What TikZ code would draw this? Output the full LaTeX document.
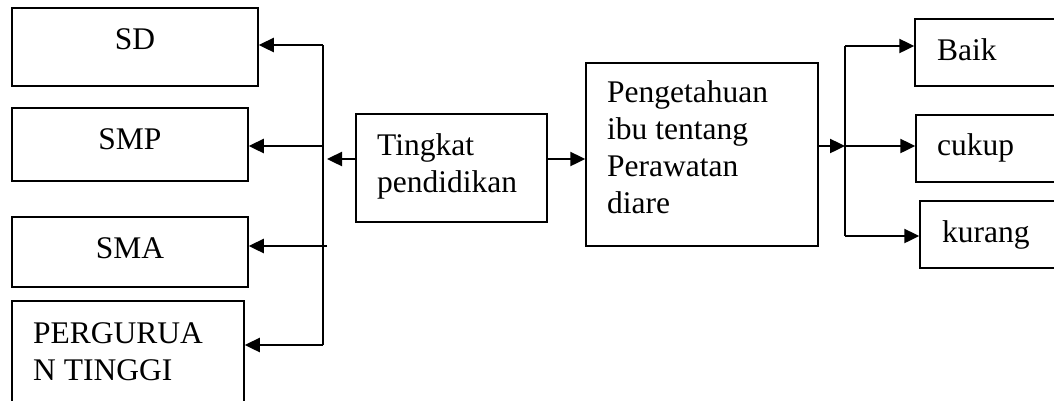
\documentclass[tikz,border=0pt]{standalone}
\usepackage{fontspec}
\setmainfont{Liberation Serif}
\usetikzlibrary{arrows.meta}
\tikzset{
  box/.style={draw, line width=1.5pt, inner sep=0pt, rectangle},
  txt/.style={anchor=base west, inner sep=0pt, align=left, font=\fontsize{31.5}{37}\selectfont},
  ctxt/.style={anchor=base, inner sep=0pt, font=\fontsize{31.5}{37}\selectfont},
  arr/.style={line width=2.4pt, -{Triangle[length=15pt,width=14pt]}},
  ln/.style={line width=2.2pt}
}
\begin{document}
\begin{tikzpicture}[x=1pt,y=-1pt]
\useasboundingbox (0,0) rectangle (1054,400);
% boxes
\node[box, minimum width=246pt, minimum height=78pt] (sd) at (135,47) {};
\node[box, minimum width=236pt, minimum height=73pt] (smp) at (130,144.5) {};
\node[box, minimum width=236pt, minimum height=70pt] (sma) at (130,252) {};
\node[box, minimum width=232pt, minimum height=109pt] (pt) at (128,355.5) {};
\node[box, minimum width=191pt, minimum height=108pt] (ting) at (451.5,168) {};
\node[box, minimum width=232pt, minimum height=183pt] (peng) at (702,154.5) {};
\node[box, minimum width=155pt, minimum height=67pt] (baik) at (992.5,52.5) {};
\node[box, minimum width=154pt, minimum height=67pt] (cukup) at (993,148.5) {};
\node[box, minimum width=150pt, minimum height=67pt] (kurang) at (995,234.5) {};
% texts (base = last line's baseline)
\node[ctxt] (tsd) at (135,49) {SD};
\node[ctxt] (tsmp) at (130,149) {SMP};
\node[ctxt] (tsma) at (130,258) {SMA};
\node[txt] (tpt) at (33,380) {PERGURUA\\N TINGGI};
\node[txt] (tting) at (377,192) {Tingkat\\pendidikan};
\node[txt] (tpeng) at (607,213) {Pengetahuan\\ibu tentang\\Perawatan\\diare};
\node[txt] (tbaik) at (937,60) {Baik};
\node[txt] (tcukup) at (937,155) {cukup};
\node[txt] (tkurang) at (942,242) {kurang};
% left connectors
\coordinate (s1) at (323,45);
\coordinate (s2) at (323,146);
\coordinate (s3) at (327,246);
\coordinate (s4) at (323,345);
\coordinate (sc) at (327,159);
\draw[ln] (s1) -- (s4);
\draw[arr] (s1) -- (s1 -| sd.east);
\draw[arr] (s2) -- (s2 -| smp.east);
\draw[arr] (s3) -- (s3 -| sma.east);
\draw[arr] (s4) -- (s4 -| pt.east);
\draw[arr] (ting.west |- sc) -- (sc);
% middle
\coordinate (m) at (ting.east |- sc);
\draw[arr] (m) -- (m -| peng.west);
% right connectors
\coordinate (r1) at (845,46);
\coordinate (r2) at (845,146);
\coordinate (r3) at (845,236);
\draw[arr] (peng.east |- r2) -- (r2);
\draw[ln] (r1) -- (r3);
\draw[arr] (r1) -- (r1 -| baik.west);
\draw[arr] (r2) -- (r2 -| cukup.west);
\draw[arr] (r3) -- (r3 -| kurang.west);
\end{tikzpicture}
\end{document}
